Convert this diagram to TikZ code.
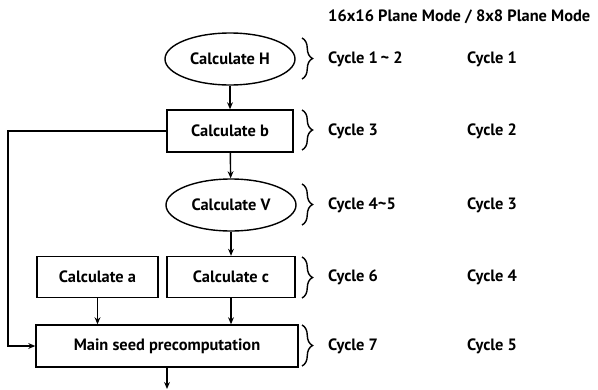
\documentclass[tikz,border=0pt]{standalone}
\usepackage{fontspec}
\newfontfamily\diagfont{PT Sans}
\usetikzlibrary{arrows.meta,shapes.geometric,decorations.pathreplacing}

\tikzset{
  stage/.style={draw, line width=1.2pt, minimum height=1.26cm, inner sep=0pt, font=\diagfont\bfseries\fontsize{14}{16}\selectfont},
  oval/.style={stage, ellipse, minimum width=3.9cm, minimum height=1.56cm},
  flow/.style={line width=1.2pt, -{Stealth[length=6pt,width=5pt]}},
  bracket/.style={line width=1.2pt, decorate, decoration={brace, amplitude=9pt}},
  cyc/.style={anchor=west, inner sep=0pt, font=\diagfont\bfseries\fontsize{14}{16}\selectfont}
}

\begin{document}
\begin{tikzpicture}[x=0.03cm, y=-0.03cm]
    \useasboundingbox (0,0) rectangle (598,389);

    \node [cyc] (head) at (328,17) {16x16 Plane Mode / 8x8 Plane Mode};

    \node [oval] (H) at (230,59) {Calculate H};
    \node [stage, minimum width=3.78cm] (b) at (230,131) {Calculate b};
    \node [oval] (V) at (231,205) {Calculate V};
    \node [stage, minimum width=3.84cm, minimum height=1.23cm] (c) at (231,277) {Calculate c};
    \node [stage, minimum width=3.63cm, minimum height=1.23cm] (a) at (97.5,277) {Calculate a};
    \node [stage, minimum width=7.86cm] (main) at (167,346) {Main seed precomputation};
    \coordinate (out) at (167,389);
    \coordinate (back) at (8,0);

    \draw [flow] (H) -- (b);
    \draw [flow] (b) -- (V);
    \draw [flow] (V) -- (c);
    \draw [flow] (c.south) -- (c.south |- main.north);
    \draw [flow] (a.south) -- (a.south |- main.north);
    \draw [flow] (b.west) -| (back |- main.west) -- (main.west);
    \draw [flow] (main.south) -- (out);

    \draw [bracket] (302,38) -- (302,79);
    \draw [bracket] (302,110) -- (302,150);
    \draw [bracket] (302,184) -- (302,225);
    \draw [bracket] (302,257) -- (302,298);
    \draw [bracket] (302,325) -- (302,366);

    \node [cyc] (n1) at (328,59) {Cycle 1\,\textasciitilde\ 2};
    \node [cyc] (n2) at (328,131) {Cycle 3};
    \node [cyc] (n3) at (328,205) {Cycle 4\textasciitilde 5};
    \node [cyc] (n4) at (328,277) {Cycle 6};
    \node [cyc] (n5) at (328,346) {Cycle 7};
    \node [cyc] (m1) at (467,59) {Cycle 1};
    \node [cyc] (m2) at (467,131) {Cycle 2};
    \node [cyc] (m3) at (467,205) {Cycle 3};
    \node [cyc] (m4) at (467,277) {Cycle 4};
    \node [cyc] (m5) at (467,346) {Cycle 5};
\end{tikzpicture}
\end{document}
